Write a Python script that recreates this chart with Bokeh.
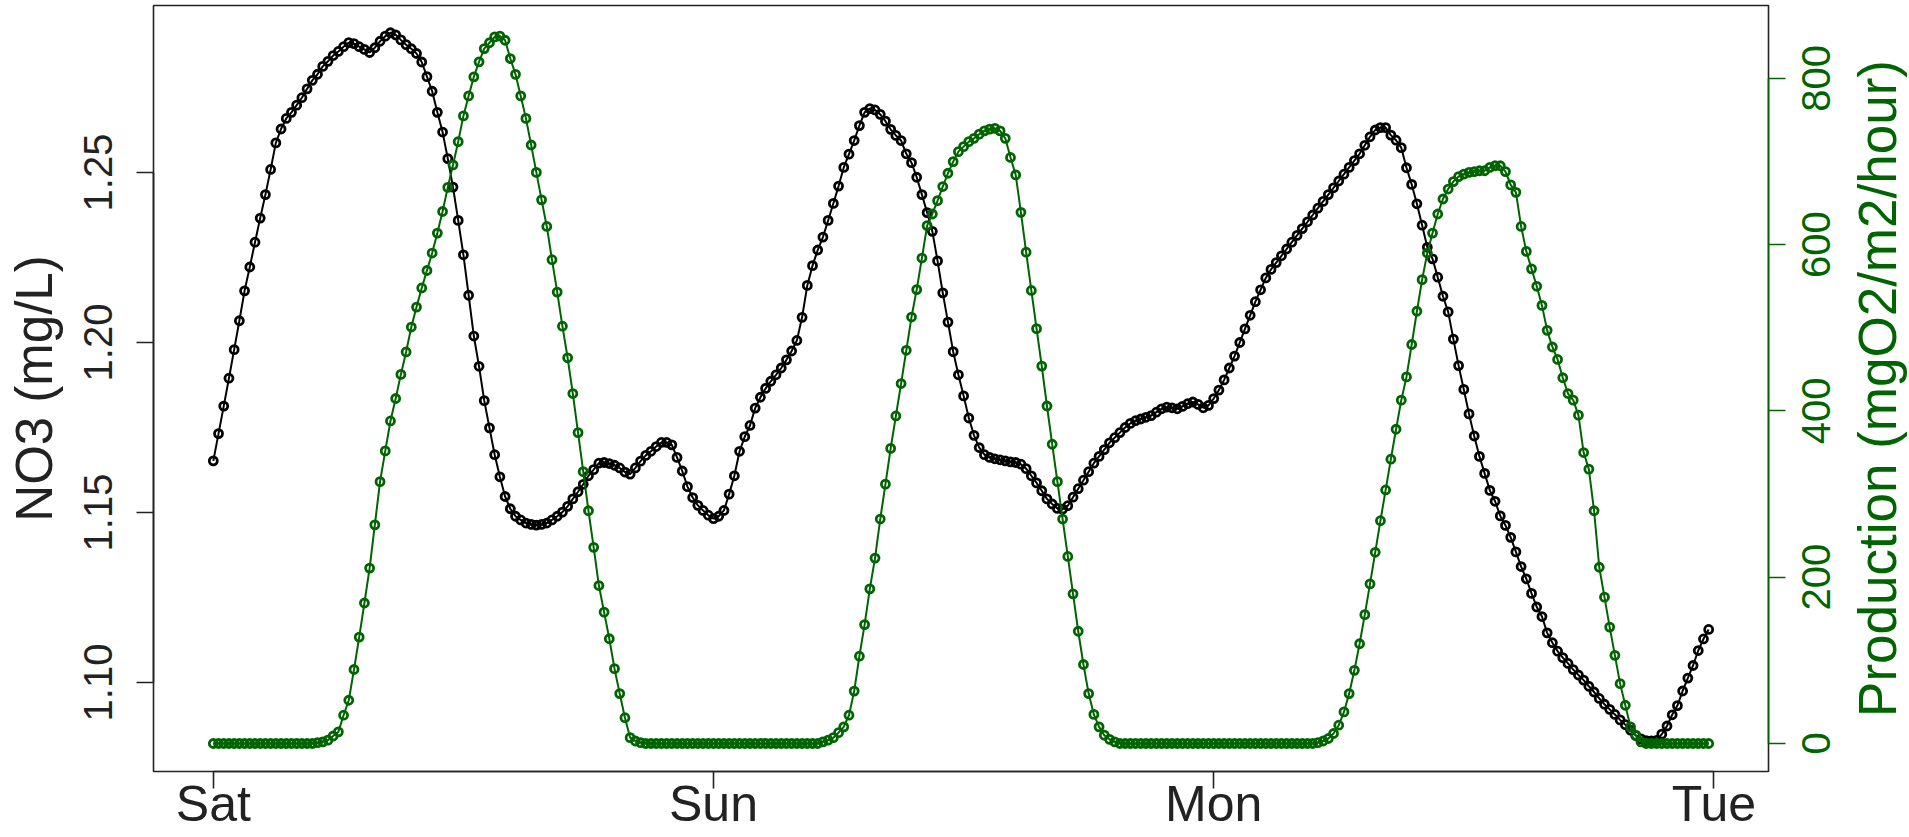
import math
from bokeh.plotting import figure
from bokeh.layouts import row
from bokeh.models import (Range1d, LinearAxis, FixedTicker, PrintfTickFormatter)
from bokeh.core.properties import value
from bokeh.embed import file_html
from bokeh.resources import INLINE

# ---------------- data (15-minute readings, Sat 00:00 -> Mon 23:45) ----------------
day_labels = ["Sat", "Sun", "Mon", "Tue"]
day_ticks = [0, 1, 2, 3]
no3_ticks = [1.10, 1.15, 1.20, 1.25]
prod_ticks = [0, 200, 400, 600, 800]
readings_per_day = 96

no3 = [
    1.1652, 1.1732, 1.1813, 1.1895, 1.1979, 1.2064, 1.2152, 1.2222, 1.2295, 1.2366, 1.2435, 1.2509,
    1.2587, 1.2628, 1.2659, 1.2677, 1.2698, 1.2720, 1.2746, 1.2771, 1.2789, 1.2812, 1.2827, 1.2844,
    1.2856, 1.2870, 1.2882, 1.2879, 1.2870, 1.2862, 1.2853, 1.2867, 1.2886, 1.2901, 1.2911, 1.2905,
    1.2890, 1.2876, 1.2864, 1.2850, 1.2825, 1.2782, 1.2739, 1.2677, 1.2619, 1.2541, 1.2457, 1.2359,
    1.2258, 1.2139, 1.2019, 1.1930, 1.1829, 1.1749, 1.1670, 1.1605, 1.1547, 1.1511, 1.1489, 1.1478,
    1.1469, 1.1465, 1.1463, 1.1465, 1.1469, 1.1478, 1.1489, 1.1501, 1.1518, 1.1540, 1.1561, 1.1583,
    1.1608, 1.1626, 1.1645, 1.1647, 1.1644, 1.1639, 1.1631, 1.1619, 1.1613, 1.1631, 1.1651, 1.1668,
    1.1680, 1.1694, 1.1706, 1.1706, 1.1699, 1.1662, 1.1622, 1.1576, 1.1544, 1.1521, 1.1506, 1.1492,
    1.1482, 1.1489, 1.1506, 1.1554, 1.1608, 1.1680, 1.1723, 1.1756, 1.1807, 1.1839, 1.1865, 1.1886,
    1.1905, 1.1925, 1.1949, 1.1975, 1.2006, 1.2074, 1.2168, 1.2226, 1.2272, 1.2310, 1.2359, 1.2409,
    1.2460, 1.2515, 1.2554, 1.2594, 1.2638, 1.2677, 1.2688, 1.2684, 1.2671, 1.2651, 1.2627, 1.2609,
    1.2594, 1.2555, 1.2529, 1.2486, 1.2435, 1.2382, 1.2327, 1.2240, 1.2146, 1.2060, 1.1973, 1.1905,
    1.1843, 1.1778, 1.1727, 1.1691, 1.1670, 1.1662, 1.1658, 1.1655, 1.1652, 1.1649, 1.1647, 1.1642,
    1.1629, 1.1608, 1.1587, 1.1564, 1.1540, 1.1525, 1.1512, 1.1510, 1.1520, 1.1545, 1.1570, 1.1595,
    1.1620, 1.1645, 1.1665, 1.1685, 1.1705, 1.1720, 1.1735, 1.1750, 1.1762, 1.1770, 1.1775, 1.1780,
    1.1785, 1.1795, 1.1805, 1.1810, 1.1808, 1.1805, 1.1812, 1.1820, 1.1825, 1.1818, 1.1808, 1.1815,
    1.1835, 1.1860, 1.1890, 1.1925, 1.1960, 1.2000, 1.2040, 1.2080, 1.2120, 1.2155, 1.2190, 1.2215,
    1.2235, 1.2255, 1.2275, 1.2295, 1.2315, 1.2335, 1.2355, 1.2375, 1.2395, 1.2415, 1.2435, 1.2455,
    1.2475, 1.2495, 1.2515, 1.2535, 1.2555, 1.2580, 1.2605, 1.2625, 1.2632, 1.2632, 1.2610, 1.2595,
    1.2573, 1.2514, 1.2465, 1.2408, 1.2345, 1.2280, 1.2246, 1.2192, 1.2136, 1.2090, 1.2010, 1.1932,
    1.1862, 1.1790, 1.1725, 1.1665, 1.1615, 1.1565, 1.1533, 1.1490, 1.1462, 1.1427, 1.1384, 1.1341,
    1.1305, 1.1262, 1.1222, 1.1194, 1.1146, 1.1117, 1.1092, 1.1073, 1.1056, 1.1038, 1.1022, 1.1007,
    1.0989, 1.0972, 1.0953, 1.0936, 1.0921, 1.0906, 1.0890, 1.0876, 1.0860, 1.0844, 1.0834, 1.0829,
    1.0828, 1.0830, 1.0848, 1.0872, 1.0905, 1.0932, 1.0975, 1.1013, 1.1050, 1.1094, 1.1128, 1.1156,
]

production = [
    0, 0, 0, 0, 0, 0, 0, 0, 0, 0, 0, 0,
    0, 0, 0, 0, 0, 0, 0, 0, 1, 2, 4, 9,
    14, 34, 52, 89, 128, 169, 211, 263, 315, 352, 388, 415,
    444, 471, 501, 525, 548, 569, 590, 614, 640, 669, 696, 724,
    755, 779, 802, 820, 836, 843, 850, 851, 846, 824, 805, 779,
    752, 720, 687, 654, 622, 582, 543, 502, 464, 421, 374, 327,
    280, 236, 190, 158, 126, 90, 60, 31, 7, 3, 1, 0,
    0, 0, 0, 0, 0, 0, 0, 0, 0, 0, 0, 0,
    0, 0, 0, 0, 0, 0, 0, 0, 0, 0, 0, 0,
    0, 0, 0, 0, 0, 0, 0, 0, 0, 2, 4, 7,
    13, 20, 34, 63, 105, 143, 186, 223, 270, 312, 355, 394,
    433, 473, 513, 546, 584, 623, 637, 653, 670, 686, 700, 712,
    718, 724, 728, 733, 737, 739, 740, 737, 728, 705, 684, 639,
    591, 545, 499, 454, 406, 360, 315, 270, 225, 180, 135, 95,
    60, 35, 20, 10, 5, 2, 0, 0, 0, 0, 0, 0,
    0, 0, 0, 0, 0, 0, 0, 0, 0, 0, 0, 0,
    0, 0, 0, 0, 0, 0, 0, 0, 0, 0, 0, 0,
    0, 0, 0, 0, 0, 0, 0, 0, 1, 3, 6, 12,
    22, 38, 60, 88, 120, 155, 192, 230, 268, 305, 342, 378,
    413, 441, 480, 520, 558, 590, 614, 637, 655, 667, 676, 682,
    685, 687, 688, 689, 689, 693, 695, 695, 688, 672, 663, 622,
    592, 571, 550, 527, 497, 477, 462, 440, 421, 413, 395, 350,
    330, 280, 212, 176, 140, 106, 72, 46, 20, 10, 2, 0,
    0, 0, 0, 0, 0, 0, 0, 0, 0, 0, 0, 0,
]

assert len(no3) == len(production)
days = [i / readings_per_day for i in range(len(no3))]

# ---------------- layout constants ----------------
GREEN = "#006400"
AXIS_DARK = "#222222"
FONT = "Liberation Sans"
TOTAL_W, TOTAL_H = 1909, 837
FRAME_LEFT, FRAME_TOP, FRAME_RIGHT, FRAME_BOTTOM = 153, 5, 1768, 771
MAIN_W = 1793                      # main figure: plot + right tick marks
SIDE_W = TOTAL_W - MAIN_W          # side strip: right-hand tick labels and title

span = days[-1] - days[0]
x_range = Range1d(days[0] - 0.04 * span, days[-1] + 0.04 * span)
prod_range = Range1d(-33.7, 887.8)

p = figure(width=MAIN_W, height=TOTAL_H, output_backend="svg", toolbar_location=None,
           x_range=x_range, y_range=Range1d(1.07382, 1.29912),
           min_border_left=FRAME_LEFT, min_border_right=MAIN_W - FRAME_RIGHT,
           min_border_top=FRAME_TOP, min_border_bottom=TOTAL_H - FRAME_BOTTOM,
           x_axis_type=None, y_axis_type=None)
p.extra_y_ranges = {"prod": prod_range}
p.grid.visible = False
p.outline_line_color = AXIS_DARK
p.outline_line_width = 1.6
p.background_fill_color = "white"
p.border_fill_color = "white"

def style_axis(ax, color, label_size, ticks_out=17):
    ax.axis_line_color = color
    ax.axis_line_width = 1.6
    ax.major_tick_line_color = color
    ax.major_tick_line_width = 1.6
    ax.major_tick_in = 0
    ax.major_tick_out = ticks_out
    ax.minor_tick_line_color = None
    ax.major_label_text_font = FONT
    ax.major_label_text_font_size = label_size
    ax.major_label_text_color = color
    ax.axis_label_text_font = FONT
    ax.axis_label_text_font_style = "normal"
    ax.axis_label_text_color = color

# bottom axis: days
xaxis = LinearAxis(ticker=FixedTicker(ticks=day_ticks),
                   major_label_overrides={t: lab for t, lab in zip(day_ticks, day_labels)})
style_axis(xaxis, AXIS_DARK, "50px")
xaxis.major_label_standoff = -13
xaxis.bounds = (day_ticks[0], day_ticks[-1])
p.add_layout(xaxis, "below")

# left axis: NO3
yaxis = LinearAxis(ticker=FixedTicker(ticks=no3_ticks),
                   formatter=PrintfTickFormatter(format="%.2f"),
                   axis_label="NO3 (mg/L)")
style_axis(yaxis, AXIS_DARK, "40px")
yaxis.bounds = (no3_ticks[0], no3_ticks[-1])
yaxis.major_label_orientation = "vertical"
yaxis.major_label_standoff = 24
yaxis.axis_label_text_font_size = "51px"
yaxis.axis_label_standoff = 19
p.add_layout(yaxis, "left")

# right axis: production tick marks (their labels live in the side strip)
raxis = LinearAxis(y_range_name="prod", ticker=FixedTicker(ticks=prod_ticks),
                   major_label_overrides={t: "" for t in prod_ticks})
style_axis(raxis, GREEN, "10px")
raxis.major_label_standoff = 0
raxis.bounds = (prod_ticks[0], prod_ticks[-1])
p.add_layout(raxis, "right")

# series
p.line(days, no3, line_color="black", line_width=2)
p.scatter(days, no3, marker="circle", size=8, fill_color=None,
          line_color="black", line_width=2.8)
p.line(days, production, line_color=GREEN, line_width=2, y_range_name="prod")
p.scatter(days, production, marker="circle", size=8, fill_color=None,
          line_color=GREEN, line_width=2.8, y_range_name="prod")

# ---------------- side strip sharing the production scale ----------------
side = figure(width=SIDE_W, height=TOTAL_H, output_backend="svg", toolbar_location=None,
              x_range=Range1d(0, SIDE_W), y_range=prod_range,
              min_border_left=0, min_border_right=0,
              min_border_top=FRAME_TOP, min_border_bottom=TOTAL_H - FRAME_BOTTOM,
              x_axis_type=None, y_axis_type=None)
side.grid.visible = False
side.outline_line_color = None
side.background_fill_color = "white"
side.border_fill_color = "white"

tick_label_x = 1815 - MAIN_W
title_x = 1877 - MAIN_W
side.text(x=[tick_label_x] * len(prod_ticks), y=prod_ticks,
          text=[str(t) for t in prod_ticks], angle=math.pi / 2,
          text_align="center", text_baseline="middle",
          text_font=value(FONT), text_font_size="40px", text_color=GREEN)
side.text(x=[title_x], y=[(prod_range.start + prod_range.end) / 2],
          text=["Production (mgO2/m2/hour)"], angle=math.pi / 2,
          text_align="center", text_baseline="middle",
          text_font=value(FONT), text_font_size="53px", text_color=GREEN)

layout = row(p, side, spacing=0)
open("out.html", "w").write(file_html(layout, INLINE))
